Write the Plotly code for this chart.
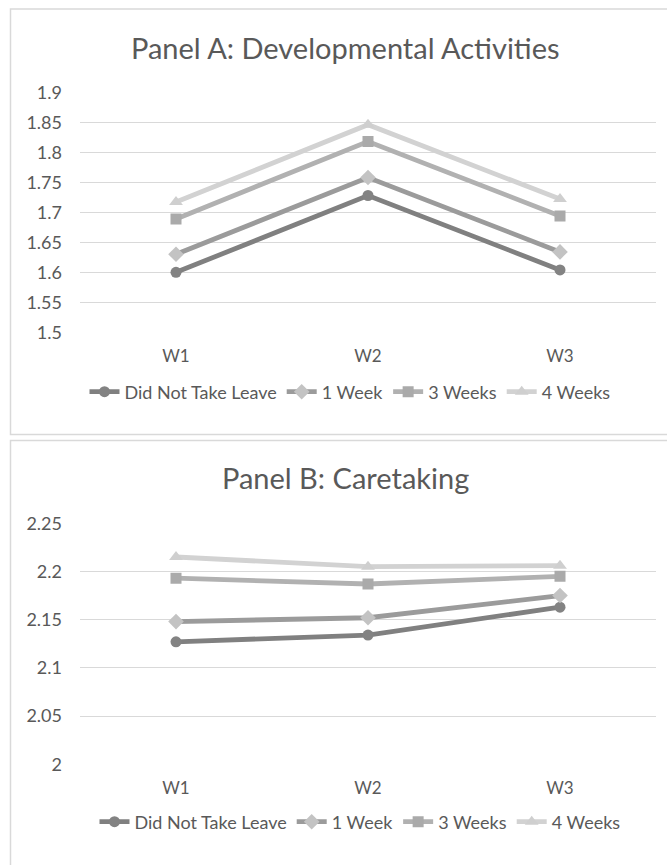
import plotly.graph_objects as go

# Survey waves on the category axis
waves = ["W1", "W2", "W3"]

# Leave groups shown in both panels
groups = ["Did Not Take Leave", "1 Week", "3 Weeks", "4 Weeks"]

# Panel A: developmental activities, mean score per wave
dev_no_leave = [1.600, 1.728, 1.604]
dev_1_week = [1.630, 1.758, 1.634]
dev_3_weeks = [1.689, 1.818, 1.694]
dev_4_weeks = [1.717, 1.846, 1.722]

# Panel B: caretaking, mean score per wave
care_no_leave = [2.127, 2.134, 2.163]
care_1_week = [2.148, 2.152, 2.175]
care_3_weeks = [2.193, 2.187, 2.195]
care_4_weeks = [2.215, 2.205, 2.206]

dev_ticks = [1.5, 1.55, 1.6, 1.65, 1.7, 1.75, 1.8, 1.85, 1.9]
dev_labels = ["1.5", "1.55", "1.6", "1.65", "1.7", "1.75", "1.8", "1.85", "1.9"]
care_ticks = [2.0, 2.05, 2.1, 2.15, 2.2, 2.25]
care_labels = ["2", "2.05", "2.1", "2.15", "2.2", "2.25"]

W, H = 667, 865
FONT = "Lato"
TEXT = "#595959"
GRID = "#d9d9d9"

styles = [
    dict(line="#808080", marker="#838383", symbol="circle", size=11),
    dict(line="#9b9b9b", marker="#c3c3c3", symbol="diamond", size=12),
    dict(line="#b1b1b1", marker="#aaaaaa", symbol="square", size=11),
    dict(line="#d2d2d2", marker="#cfcfcf", symbol="triangle-up", size=12),
]


def py(px):
    """Convert a pixel row (from the top) to paper coordinates."""
    return 1 - px / H


fig = go.Figure()

panels = [
    dict(series=[dev_no_leave, dev_1_week, dev_3_weeks, dev_4_weeks],
         xaxis="x", yaxis="y", legend="legend"),
    dict(series=[care_no_leave, care_1_week, care_3_weeks, care_4_weeks],
         xaxis="x2", yaxis="y2", legend="legend2"),
]

for p in panels:
    for name, vals, st in zip(groups, p["series"], styles):
        fig.add_trace(go.Scatter(
            x=waves, y=vals, name=name, mode="lines+markers",
            xaxis=p["xaxis"], yaxis=p["yaxis"], legend=p["legend"],
            line=dict(color=st["line"], width=4.8),
            marker=dict(color=st["marker"], symbol=st["symbol"],
                        size=st["size"], line=dict(width=0)),
        ))

x_dom = [80 / W, 656 / W]
xtick_font = dict(family=FONT, size=17, color=TEXT)
ytick_font = dict(family=FONT, size=18, color=TEXT)

xcommon = dict(domain=x_dom, range=[-0.5, 2.5], type="category",
               showgrid=False, showline=False, zeroline=False, ticks="",
               tickfont=xtick_font, ticklabelstandoff=11, fixedrange=True,
               automargin=False)
ycommon = dict(showgrid=True, gridcolor=GRID, gridwidth=1, showline=False,
               zeroline=False, ticks="", tickfont=ytick_font,
               ticklabelstandoff=17, tickmode="array", fixedrange=True,
               automargin=False)

legend_font = dict(family=FONT, size=18, color=TEXT)

eps = 0.0006
fig.update_layout(
    width=W, height=H,
    margin=dict(l=0, r=0, t=0, b=0, pad=0, autoexpand=False),
    paper_bgcolor="white", plot_bgcolor="white",
    font=dict(family=FONT, color=TEXT),
    xaxis=dict(**xcommon, anchor="y"),
    yaxis=dict(**ycommon, anchor="x", domain=[py(332.7), py(91.9)],
               range=[1.5 - eps, 1.9 + eps],
               tickvals=dev_ticks, ticktext=dev_labels),
    xaxis2=dict(**xcommon, anchor="y2"),
    yaxis2=dict(**ycommon, anchor="x2", domain=[py(764.8), py(522.7)],
                range=[2.0 - eps, 2.25 + eps],
                tickvals=care_ticks, ticktext=care_labels),
    legend=dict(orientation="h", x=350 / W, xanchor="center",
                y=py(392), yanchor="middle", font=legend_font,
                bgcolor="rgba(0,0,0,0)", itemclick=False),
    legend2=dict(orientation="h", x=360 / W, xanchor="center",
                 y=py(822), yanchor="middle", font=legend_font,
                 bgcolor="rgba(0,0,0,0)", itemclick=False),
    showlegend=True,
    annotations=[
        dict(text="Panel A: Developmental Activities", x=345 / W, y=py(47),
             xref="paper", yref="paper", xanchor="center", yanchor="middle",
             showarrow=False, font=dict(family=FONT, size=29, color=TEXT)),
        dict(text="Panel B: Caretaking", x=345 / W, y=py(477),
             xref="paper", yref="paper", xanchor="center", yanchor="middle",
             showarrow=False, font=dict(family=FONT, size=29, color=TEXT)),
    ],
    shapes=[
        dict(type="rect", xref="paper", yref="paper",
             x0=10.5 / W, x1=1.05, y0=py(434.5), y1=py(9),
             line=dict(color=GRID, width=1.5), fillcolor="rgba(0,0,0,0)",
             layer="below"),
        dict(type="rect", xref="paper", yref="paper",
             x0=10.5 / W, x1=1.05, y0=-0.05, y1=py(440.5),
             line=dict(color=GRID, width=1.5), fillcolor="rgba(0,0,0,0)",
             layer="below"),
    ],
)

fig.write_html("out.html")
